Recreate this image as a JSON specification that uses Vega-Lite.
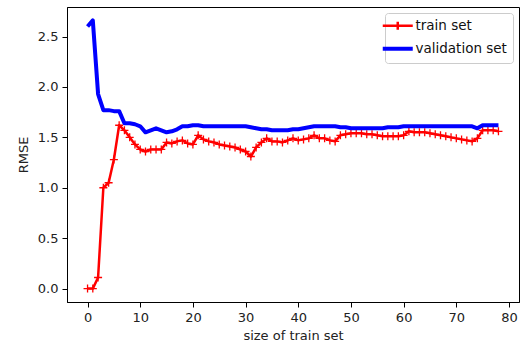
{
  "$schema": "https://vega.github.io/schema/vega-lite/v6.json",
  "width": 452,
  "height": 295,
  "autosize": "none",
  "padding": {"left": 67, "top": 7, "right": 12, "bottom": 54},
  "background": "white",
  "datasets": {
    "curves": [
      {"size":0,"rmse":0.0,"set":"train set"},{"size":1,"rmse":0.0,"set":"train set"},{"size":2,"rmse":0.11,"set":"train set"},{"size":3,"rmse":1.0,"set":"train set"},{"size":4,"rmse":1.05,"set":"train set"},{"size":5,"rmse":1.28,"set":"train set"},{"size":6,"rmse":1.62,"set":"train set"},{"size":7,"rmse":1.57,"set":"train set"},{"size":8,"rmse":1.50,"set":"train set"},{"size":9,"rmse":1.43,"set":"train set"},
      {"size":10,"rmse":1.38,"set":"train set"},{"size":11,"rmse":1.36,"set":"train set"},{"size":12,"rmse":1.38,"set":"train set"},{"size":13,"rmse":1.38,"set":"train set"},{"size":14,"rmse":1.38,"set":"train set"},{"size":15,"rmse":1.45,"set":"train set"},{"size":16,"rmse":1.44,"set":"train set"},{"size":17,"rmse":1.46,"set":"train set"},{"size":18,"rmse":1.47,"set":"train set"},{"size":19,"rmse":1.44,"set":"train set"},
      {"size":20,"rmse":1.43,"set":"train set"},{"size":21,"rmse":1.52,"set":"train set"},{"size":22,"rmse":1.48,"set":"train set"},{"size":23,"rmse":1.46,"set":"train set"},{"size":24,"rmse":1.45,"set":"train set"},{"size":25,"rmse":1.43,"set":"train set"},{"size":26,"rmse":1.42,"set":"train set"},{"size":27,"rmse":1.41,"set":"train set"},{"size":28,"rmse":1.40,"set":"train set"},{"size":29,"rmse":1.38,"set":"train set"},
      {"size":30,"rmse":1.36,"set":"train set"},{"size":31,"rmse":1.31,"set":"train set"},{"size":32,"rmse":1.40,"set":"train set"},{"size":33,"rmse":1.45,"set":"train set"},{"size":34,"rmse":1.49,"set":"train set"},{"size":35,"rmse":1.46,"set":"train set"},{"size":36,"rmse":1.46,"set":"train set"},{"size":37,"rmse":1.45,"set":"train set"},{"size":38,"rmse":1.47,"set":"train set"},{"size":39,"rmse":1.49,"set":"train set"},
      {"size":40,"rmse":1.47,"set":"train set"},{"size":41,"rmse":1.48,"set":"train set"},{"size":42,"rmse":1.49,"set":"train set"},{"size":43,"rmse":1.52,"set":"train set"},{"size":44,"rmse":1.49,"set":"train set"},{"size":45,"rmse":1.49,"set":"train set"},{"size":46,"rmse":1.47,"set":"train set"},{"size":47,"rmse":1.46,"set":"train set"},{"size":48,"rmse":1.52,"set":"train set"},{"size":49,"rmse":1.53,"set":"train set"},
      {"size":50,"rmse":1.54,"set":"train set"},{"size":51,"rmse":1.54,"set":"train set"},{"size":52,"rmse":1.54,"set":"train set"},{"size":53,"rmse":1.53,"set":"train set"},{"size":54,"rmse":1.53,"set":"train set"},{"size":55,"rmse":1.52,"set":"train set"},{"size":56,"rmse":1.51,"set":"train set"},{"size":57,"rmse":1.51,"set":"train set"},{"size":58,"rmse":1.51,"set":"train set"},{"size":59,"rmse":1.51,"set":"train set"},
      {"size":60,"rmse":1.52,"set":"train set"},{"size":61,"rmse":1.56,"set":"train set"},{"size":62,"rmse":1.55,"set":"train set"},{"size":63,"rmse":1.55,"set":"train set"},{"size":64,"rmse":1.55,"set":"train set"},{"size":65,"rmse":1.54,"set":"train set"},{"size":66,"rmse":1.53,"set":"train set"},{"size":67,"rmse":1.52,"set":"train set"},{"size":68,"rmse":1.51,"set":"train set"},{"size":69,"rmse":1.50,"set":"train set"},
      {"size":70,"rmse":1.49,"set":"train set"},{"size":71,"rmse":1.48,"set":"train set"},{"size":72,"rmse":1.47,"set":"train set"},{"size":73,"rmse":1.46,"set":"train set"},{"size":74,"rmse":1.49,"set":"train set"},{"size":75,"rmse":1.57,"set":"train set"},{"size":76,"rmse":1.57,"set":"train set"},{"size":77,"rmse":1.57,"set":"train set"},{"size":78,"rmse":1.56,"set":"train set"},
      {"size":0,"rmse":2.60,"set":"validation set"},{"size":1,"rmse":2.66,"set":"validation set"},{"size":2,"rmse":1.93,"set":"validation set"},{"size":3,"rmse":1.77,"set":"validation set"},{"size":4,"rmse":1.77,"set":"validation set"},{"size":5,"rmse":1.76,"set":"validation set"},{"size":6,"rmse":1.76,"set":"validation set"},{"size":7,"rmse":1.64,"set":"validation set"},{"size":8,"rmse":1.64,"set":"validation set"},{"size":9,"rmse":1.63,"set":"validation set"},
      {"size":10,"rmse":1.61,"set":"validation set"},{"size":11,"rmse":1.55,"set":"validation set"},{"size":12,"rmse":1.57,"set":"validation set"},{"size":13,"rmse":1.59,"set":"validation set"},{"size":14,"rmse":1.57,"set":"validation set"},{"size":15,"rmse":1.55,"set":"validation set"},{"size":16,"rmse":1.56,"set":"validation set"},{"size":17,"rmse":1.58,"set":"validation set"},{"size":18,"rmse":1.61,"set":"validation set"},{"size":19,"rmse":1.61,"set":"validation set"},
      {"size":20,"rmse":1.62,"set":"validation set"},{"size":21,"rmse":1.62,"set":"validation set"},{"size":22,"rmse":1.61,"set":"validation set"},{"size":23,"rmse":1.61,"set":"validation set"},{"size":24,"rmse":1.61,"set":"validation set"},{"size":25,"rmse":1.61,"set":"validation set"},{"size":26,"rmse":1.61,"set":"validation set"},{"size":27,"rmse":1.61,"set":"validation set"},{"size":28,"rmse":1.61,"set":"validation set"},{"size":29,"rmse":1.61,"set":"validation set"},
      {"size":30,"rmse":1.61,"set":"validation set"},{"size":31,"rmse":1.60,"set":"validation set"},{"size":32,"rmse":1.59,"set":"validation set"},{"size":33,"rmse":1.58,"set":"validation set"},{"size":34,"rmse":1.58,"set":"validation set"},{"size":35,"rmse":1.57,"set":"validation set"},{"size":36,"rmse":1.57,"set":"validation set"},{"size":37,"rmse":1.57,"set":"validation set"},{"size":38,"rmse":1.57,"set":"validation set"},{"size":39,"rmse":1.58,"set":"validation set"},
      {"size":40,"rmse":1.58,"set":"validation set"},{"size":41,"rmse":1.59,"set":"validation set"},{"size":42,"rmse":1.60,"set":"validation set"},{"size":43,"rmse":1.61,"set":"validation set"},{"size":44,"rmse":1.61,"set":"validation set"},{"size":45,"rmse":1.61,"set":"validation set"},{"size":46,"rmse":1.61,"set":"validation set"},{"size":47,"rmse":1.61,"set":"validation set"},{"size":48,"rmse":1.60,"set":"validation set"},{"size":49,"rmse":1.60,"set":"validation set"},
      {"size":50,"rmse":1.59,"set":"validation set"},{"size":51,"rmse":1.59,"set":"validation set"},{"size":52,"rmse":1.59,"set":"validation set"},{"size":53,"rmse":1.59,"set":"validation set"},{"size":54,"rmse":1.59,"set":"validation set"},{"size":55,"rmse":1.59,"set":"validation set"},{"size":56,"rmse":1.59,"set":"validation set"},{"size":57,"rmse":1.60,"set":"validation set"},{"size":58,"rmse":1.60,"set":"validation set"},{"size":59,"rmse":1.60,"set":"validation set"},
      {"size":60,"rmse":1.61,"set":"validation set"},{"size":61,"rmse":1.61,"set":"validation set"},{"size":62,"rmse":1.61,"set":"validation set"},{"size":63,"rmse":1.61,"set":"validation set"},{"size":64,"rmse":1.61,"set":"validation set"},{"size":65,"rmse":1.61,"set":"validation set"},{"size":66,"rmse":1.61,"set":"validation set"},{"size":67,"rmse":1.61,"set":"validation set"},{"size":68,"rmse":1.61,"set":"validation set"},{"size":69,"rmse":1.61,"set":"validation set"},
      {"size":70,"rmse":1.61,"set":"validation set"},{"size":71,"rmse":1.61,"set":"validation set"},{"size":72,"rmse":1.61,"set":"validation set"},{"size":73,"rmse":1.61,"set":"validation set"},{"size":74,"rmse":1.59,"set":"validation set"},{"size":75,"rmse":1.62,"set":"validation set"},{"size":76,"rmse":1.62,"set":"validation set"},{"size":77,"rmse":1.62,"set":"validation set"},{"size":78,"rmse":1.62,"set":"validation set"}
    ]
  },
  "data": {"name": "curves"},
  "encoding": {
    "x": {
      "field": "size", "type": "quantitative",
      "scale": {"domain": [-3.9, 81.9], "nice": false, "zero": false},
      "axis": {"title": "size of train set", "values": [0,10,20,30,40,50,60,70,80], "format": "d"}
    },
    "y": {
      "field": "rmse", "type": "quantitative",
      "scale": {"domain": [-0.133, 2.793], "nice": false, "zero": false},
      "axis": {"title": "RMSE", "values": [0,0.5,1,1.5,2,2.5], "format": ".1f"}
    }
  },
  "layer": [
    {
      "transform": [{"filter": "datum.set === 'train set'"}],
      "mark": {"type": "line", "strokeWidth": 2.5, "strokeJoin": "round"},
      "encoding": {
        "color": {
          "field": "set", "type": "nominal",
          "scale": {"domain": ["train set", "validation set"], "range": ["#ff0000", "#0000ff"]},
          "legend": {
            "title": null,
            "orient": "top-right",
            "offset": 6,
            "symbolType": "stroke",
            "symbolSize": 900,
            "labelFontSize": 13.5,
            "labelFont": "DejaVu Sans",
            "labelColor": "#111111",
            "labelOffset": 11,
            "fillColor": "rgba(255,255,255,0.8)",
            "strokeColor": "#cccccc",
            "cornerRadius": 3,
            "padding": 6,
            "rowPadding": 5,
            "encode": {
              "symbols": {
                "update": {
                  "shape": {"signal": "datum.value === 'train set' ? 'M-1,0H1M0,-0.27V0.27' : 'stroke'"},
                  "strokeWidth": {"signal": "datum.value === 'train set' ? 2.5 : 4"}
                }
              }
            }
          }
        }
      }
    },
    {
      "transform": [{"filter": "datum.set === 'train set'"}],
      "mark": {"type": "point", "shape": "M-1,0H1M0,-1V1", "size": 64, "filled": false, "strokeWidth": 1.3, "color": "#ff0000", "opacity": 1},
      "encoding": {}
    },
    {
      "transform": [{"filter": "datum.set === 'validation set'"}],
      "mark": {"type": "line", "strokeWidth": 4, "strokeJoin": "round"},
      "encoding": {
        "color": {"field": "set", "type": "nominal"}
      }
    }
  ],
  "config": {
    "font": "DejaVu Sans",
    "view": {"stroke": "#000000", "strokeWidth": 1},
    "axis": {
      "grid": false,
      "domainColor": "#000000",
      "tickColor": "#000000",
      "tickSize": 5,
      "labelPadding": 4,
      "labelFontSize": 13,
      "labelColor": "#222222",
      "titleFontSize": 13,
      "titleFontWeight": "normal",
      "titleColor": "#222222"
    },
    "axisX": {"titlePadding": 5},
    "axisY": {"titlePadding": 7}
  }
}
